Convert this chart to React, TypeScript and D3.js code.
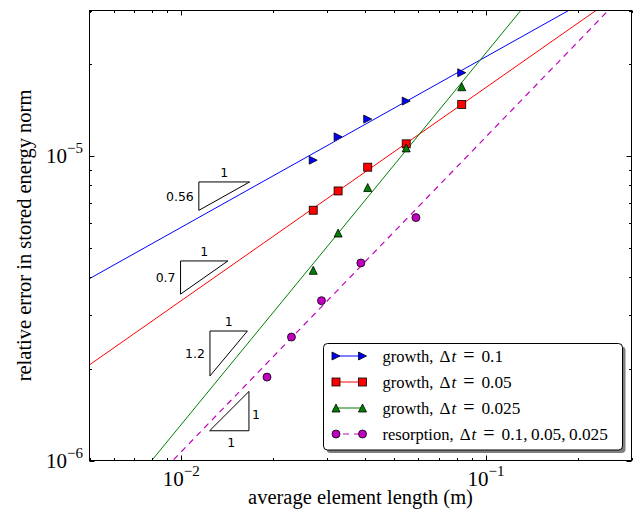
import React from 'react';
import * as d3 from 'd3';

// ---- data ----
const growthH = [0.0271, 0.0327, 0.0409, 0.0547, 0.0832];
const growthDt01 = [9.68e-6, 1.155e-5, 1.32e-5, 1.513e-5, 1.874e-5];
const growthDt005 = [6.63e-6, 7.67e-6, 9.18e-6, 1.095e-5, 1.475e-5];
const growthDt0025 = [4.21e-6, 5.58e-6, 7.87e-6, 1.062e-5, 1.686e-5];
const resorptionH = [0.01911, 0.02299, 0.02884, 0.03883, 0.05888];
const resorptionErr = [1.878e-6, 2.542e-6, 3.347e-6, 4.45e-6, 6.27e-6];

// fitted convergence lines: slope and one anchor point each
const fitSlopes = [0.56, 0.7, 1.22, 1.034];
const fitAnchorH = [0.0832, 0.0832, 0.008, 0.00938];
const fitAnchorErr = [1.909e-5, 1.475e-5, 1e-6, 1e-6];

// slope triangles
const triSlopes = [0.56, 0.7, 1.2, 1];
const triLabels = ['0.56', '0.7', '1.2', '1'];
const triCornerH = [0.01142, 0.009947, 0.01242, 0.01239];
const triCornerErr = [8.21e-6, 4.519e-6, 2.661e-6, 1.252e-6];
const triWidthDec = [0.1666, 0.1554, 0.1229, 0.129];

const xDomain = [0.005, 0.3];
const yDomain = [1e-6, 3e-5];
const xMajor = [0.01, 0.1];
const xMajorExp = ['\u22122', '\u22121'];
const yMajor = [1e-6, 1e-5];
const yMajorExp = ['\u22126', '\u22125'];

const legendLabels = [
  { pre: 'growth, ', post: '0.1' },
  { pre: 'growth, ', post: '0.05' },
  { pre: 'growth, ', post: '0.025' },
  { pre: 'resorption, ', post: '0.1,\u20090.05,\u20090.025' },
];
const seriesColors = ['#0000ff', '#ff0000', '#007f00', '#bf00bf'];
const seriesMarkers = ['tri-right', 'square', 'tri-up', 'circle'];

const W = 633;
const H = 514;
const L = 89.5, R = 631.5, T = 10.5, B = 460.5;

const SERIF = '"Liberation Serif", "Times New Roman", serif';
const SANS = '"DejaVu Sans", sans-serif';

function Marker({ type, cx, cy, color }: { type: string; cx: number; cy: number; color: string }) {
  const r = 4;
  const stroke = '#000';
  const sw = 0.8;
  if (type === 'circle') return <circle cx={cx} cy={cy} r={r} fill={color} stroke={stroke} strokeWidth={sw} />;
  if (type === 'square') return <rect x={cx - r} y={cy - r} width={2 * r} height={2 * r} fill={color} stroke={stroke} strokeWidth={sw} />;
  let pts: number[][];
  if (type === 'tri-up') pts = [[cx, cy - r], [cx - r, cy + r], [cx + r, cy + r]];
  else pts = [[cx + r, cy], [cx - r, cy - r], [cx - r, cy + r]];
  return <polygon points={pts.map((p) => p.join(',')).join(' ')} fill={color} stroke={stroke} strokeWidth={sw} strokeLinejoin="miter" />;
}

export default function App() {
  const x = d3.scaleLog().domain(xDomain).range([L, R]);
  const y = d3.scaleLog().domain(yDomain).range([B, T]);

  const growthSeries = [growthDt01, growthDt005, growthDt0025];
  const line = d3.line<number[]>().x((d) => x(d[0])).y((d) => y(d[1]));

  const fitLines = fitSlopes.map((s, i) =>
    xDomain.map((h) => [h, fitAnchorErr[i] * Math.pow(h / fitAnchorH[i], s)])
  );

  const xt = x.ticks();
  const yt = y.ticks();
  const isMajor = (v: number) => Math.abs(Math.log10(v) - Math.round(Math.log10(v))) < 1e-9;
  const majLen = 5, minLen = 2.5;

  const legX = 323.5, legY = 343.5, legW = 299, legH = 106.5;
  const rowY = [356, 382, 408, 434];

  return (
    <svg width={W} height={H} style={{ position: 'absolute', left: 0, top: 0, background: '#fff' }}>
      <defs>
        <clipPath id="plotclip">
          <rect x={L} y={T} width={R - L} height={B - T} />
        </clipPath>
      </defs>
      <rect x={0} y={0} width={W} height={H} fill="#fff" />

      {/* fit lines */}
      <g clipPath="url(#plotclip)" fill="none">
        {fitLines.map((pts, i) => (
          <path key={i} d={line(pts as number[][]) || ''} stroke={seriesColors[i]} strokeWidth={i === 3 ? 1.2 : 1}
            strokeDasharray={i === 3 ? '6,5' : undefined} />
        ))}
      </g>

      {/* slope triangles */}
      <g fill="none" stroke="#000" strokeWidth={1}>
        {triSlopes.map((s, i) => {
          const x0 = triCornerH[i], y0 = triCornerErr[i];
          const x1 = x0 * Math.pow(10, triWidthDec[i]);
          let pts: number[][];
          if (i < 3) {
            const y1 = y0 * Math.pow(10, -s * triWidthDec[i]);
            pts = [[x0, y0], [x1, y0], [x0, y1]];
          } else {
            const y1 = y0 * Math.pow(10, s * triWidthDec[i]);
            pts = [[x0, y0], [x1, y0], [x1, y1]];
          }
          return <polygon key={i} points={pts.map((p) => `${x(p[0])},${y(p[1])}`).join(' ')} />;
        })}
      </g>
      <g fontFamily={SANS} fontSize={12.5} fill="#000">
        {triSlopes.map((s, i) => {
          const x0 = triCornerH[i], y0 = triCornerErr[i];
          const x1 = x0 * Math.pow(10, triWidthDec[i]);
          const px0 = x(x0), px1 = x(x1), py0 = y(y0);
          if (i < 3) {
            const py1 = y(y0 * Math.pow(10, -s * triWidthDec[i]));
            return (
              <g key={i}>
                <text x={(px0 + px1) / 2} y={py0 - 5} textAnchor="middle">1</text>
                <text x={px0 - 5} y={(py0 + py1) / 2} dy="0.36em" textAnchor="end">{triLabels[i]}</text>
              </g>
            );
          }
          const py1 = y(y0 * Math.pow(10, s * triWidthDec[i]));
          return (
            <g key={i}>
              <text x={px1 + 3} y={(py0 + py1) / 2 + 3} dy="0.36em" textAnchor="start">{triLabels[i]}</text>
              <text x={(px0 + px1) / 2 + 2} y={py0 + 12} dy="0.36em" textAnchor="middle">1</text>
            </g>
          );
        })}
      </g>

      {/* markers */}
      <g clipPath="url(#plotclip)">
        {growthSeries.map((ser, si) =>
          ser.map((v, j) => (
            <Marker key={`${si}-${j}`} type={seriesMarkers[si]} cx={x(growthH[j])} cy={y(v)} color={seriesColors[si]} />
          ))
        )}
        {resorptionErr.map((v, j) => (
          <Marker key={`r-${j}`} type="circle" cx={x(resorptionH[j])} cy={y(v)} color={seriesColors[3]} />
        ))}
      </g>

      {/* axes frame */}
      <rect x={L} y={T} width={R - L} height={B - T} fill="none" stroke="#000" strokeWidth={1} />

      {/* ticks */}
      <g stroke="#000" strokeWidth={1}>
        {xt.map((v, i) => {
          const len = isMajor(v) ? majLen : minLen;
          const px = Math.round(x(v)) + 0.5;
          return (
            <g key={`xt${i}`}>
              <line x1={px} x2={px} y1={B} y2={B - len} />
              <line x1={px} x2={px} y1={T} y2={T + len} />
            </g>
          );
        })}
        {yt.map((v, i) => {
          const len = isMajor(v) ? majLen : minLen;
          const py = Math.round(y(v)) + 0.5;
          return (
            <g key={`yt${i}`}>
              <line x1={L} x2={L + len} y1={py} y2={py} />
              <line x1={R} x2={R - len} y1={py} y2={py} />
            </g>
          );
        })}
      </g>

      {/* tick labels */}
      <g fontFamily={SERIF} fill="#000">
        {xMajor.map((v, i) => (
          <text key={`xl${i}`} x={x(v)} y={486} textAnchor="middle" fontSize={21}>
            10<tspan fontSize={15} dy={-10}>{xMajorExp[i]}</tspan>
          </text>
        ))}
        {yMajor.map((v, i) => (
          <text key={`yl${i}`} x={83} y={y(v) + 7} textAnchor="end" fontSize={21}>
            10<tspan fontSize={15} dy={-10}>{yMajorExp[i]}</tspan>
          </text>
        ))}
      </g>

      {/* axis labels */}
      <text x={(L + R) / 2} y={504} textAnchor="middle" fontFamily={SERIF} fontSize={20.5}>
        average element length (m)
      </text>
      <text transform={`translate(31,${(T + B) / 2}) rotate(-90)`} textAnchor="middle" fontFamily={SERIF} fontSize={20.5}>
        relative error in stored energy norm
      </text>

      {/* legend */}
      <rect x={legX + 3} y={legY + 3} width={legW} height={legH} rx={4} fill="#000" opacity={0.5} />
      <rect x={legX} y={legY} width={legW} height={legH} rx={4} fill="#fff" stroke="#000" strokeWidth={1} />
      {legendLabels.map((lab, i) => {
        const yy = rowY[i];
        const xa = 336, xb = 362.5;
        return (
          <g key={`lg${i}`}>
            <line x1={xa} x2={xb} y1={yy} y2={yy} stroke={seriesColors[i]} strokeWidth={1}
              strokeDasharray={i === 3 ? '6,5' : undefined} strokeDashoffset={i === 3 ? -7 : 0} />
            <Marker type={seriesMarkers[i]} cx={xa} cy={yy} color={seriesColors[i]} />
            <Marker type={seriesMarkers[i]} cx={xb} cy={yy} color={seriesColors[i]} />
            <text x={382.5} y={yy + 6} fontFamily={SERIF} fontSize={16.5} fill="#000">
              {lab.pre}
              <tspan dx={2} fontSize={17}>Δ</tspan>
              <tspan dx={1} fontStyle="italic" fontSize={17}>t</tspan>
              <tspan dx={7} fontSize={20}>=</tspan>
              <tspan dx={7} fontSize={17.3}>{lab.post}</tspan>
            </text>
          </g>
        );
      })}
    </svg>
  );
}
